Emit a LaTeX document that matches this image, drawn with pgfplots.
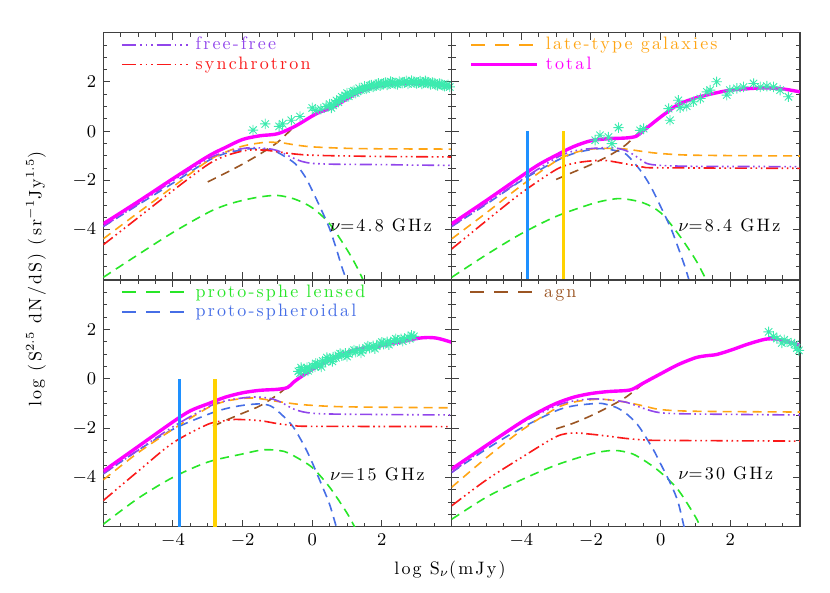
\documentclass[border=0pt]{standalone}
\usepackage{fontspec}
\setmainfont{lmroman10-regular.otf}[LetterSpace=12,BoldFont=lmroman10-bold.otf,ItalicFont=lmroman10-italic.otf]
\usepackage{pgfplots}
\pgfplotsset{compat=1.18}
\definecolor{cff}{RGB}{145,70,235}
\definecolor{csy}{RGB}{250,25,25}
\definecolor{clt}{RGB}{255,165,20}
\definecolor{ctot}{RGB}{255,0,255}
\definecolor{cpr}{RGB}{70,110,230}
\definecolor{cln}{RGB}{40,230,40}
\definecolor{cagn}{RGB}{155,85,35}
\definecolor{cdat}{RGB}{60,235,175}
\definecolor{cbar1}{RGB}{30,144,255}
\definecolor{cbar2}{RGB}{255,210,0}
\newcommand{\lf}{\fontsize{9}{11}\selectfont}
\tikzset{nulab/.style={anchor=west,inner sep=0pt,font=\lf}}
\pgfdeclareplotmark{ast8}{%
 \pgfpathmoveto{\pgfqpoint{-\pgfplotmarksize}{0pt}}\pgfpathlineto{\pgfqpoint{\pgfplotmarksize}{0pt}}%
 \pgfpathmoveto{\pgfqpoint{0pt}{-\pgfplotmarksize}}\pgfpathlineto{\pgfqpoint{0pt}{\pgfplotmarksize}}%
 \pgfpathmoveto{\pgfqpoint{-.707\pgfplotmarksize}{-.707\pgfplotmarksize}}\pgfpathlineto{\pgfqpoint{.707\pgfplotmarksize}{.707\pgfplotmarksize}}%
 \pgfpathmoveto{\pgfqpoint{-.707\pgfplotmarksize}{.707\pgfplotmarksize}}\pgfpathlineto{\pgfqpoint{.707\pgfplotmarksize}{-.707\pgfplotmarksize}}%
 \pgfusepathqstroke}
\pgfplotsset{
 panel/.style={width=174.1pt,height=123.3pt,scale only axis,
  xmin=-6,xmax=4,ymin=-6,ymax=4,
  xtick={-6,-4,-2,0,2,4},ytick={-6,-4,-2,0,2,4},
  xticklabels={,$-4$,$-2$,$0$,$2$,},yticklabels={,$-4$,$-2$,$0$,$2$,},
  minor x tick num=3,minor y tick num=3,
  tick align=inside,major tick length=3.5pt,minor tick length=2pt,
  axis line style={black!75,line width=0.6pt},
  every tick/.style={black!75,line width=0.5pt},
  tick label style={font=\fontsize{9.5}{11}\selectfont},
  legend image code/.code={\draw[##1] (0pt,0pt) -- (33pt,0pt);},
  legend style={at={(axis description cs:0.05,0.992)},anchor=north west,draw=none,fill=none,
   inner sep=0pt,row sep=0pt,column sep=3pt,font=\lf,
   nodes={inner sep=0.5pt,text height=6.8pt,text depth=2pt}},
  legend cell align=left,
 },
 ffs/.style={color=cff,line width=0.8pt,dash pattern=on 6pt off 1.8pt on 0.8pt off 1.8pt on 0.8pt off 1.8pt on 0.8pt off 1.8pt,smooth},
 sys/.style={color=csy,line width=0.8pt,dash pattern=on 6pt off 1.8pt on 0.8pt off 1.8pt on 0.8pt off 1.8pt on 0.8pt off 1.8pt,smooth},
 lts/.style={color=clt,line width=0.8pt,dash pattern=on 4.5pt off 3pt,smooth},
 tots/.style={color=ctot,line width=1.7pt,smooth},
 prs/.style={color=cpr,line width=0.8pt,dash pattern=on 4.5pt off 3pt,smooth},
 lns/.style={color=cln,line width=0.8pt,dash pattern=on 4.5pt off 3pt,smooth},
 agns/.style={color=cagn,line width=0.8pt,dash pattern=on 4.5pt off 3pt,smooth},
 dat/.style={only marks,mark=ast8,mark size=2.6pt,color=cdat,line width=0.45pt},
 bar1/.style={color=cbar1,line width=1.6pt},
 bar2/.style={color=cbar2,line width=1.6pt},
}
\begin{document}
\begin{tikzpicture}
\path[use as bounding box] (0pt,0pt) rectangle (415pt,296.5pt);
% ---------------- top left: 4.8 GHz
\begin{axis}[panel,at={(51.65pt,156.85pt)},anchor=south west,xticklabels={}]
\addplot[dat,forget plot] coordinates {(-1.7,0.05) (-1.35,0.3) (-0.95,0.2) (-0.85,0.3) (-0.6,0.45) (-0.35,0.6) (0.0,0.95) (0.1,0.85) (0.25,0.9) (0.4,1.0) (0.5,1.1) (0.6,1.05) (0.7,1.25) (0.8,1.3) (0.85,1.4) (0.95,1.45) (1.0,1.55) (1.1,1.5) (1.2,1.65) (1.3,1.62) (1.35,1.75) (1.45,1.72) (1.5,1.82) (1.6,1.78) (1.7,1.88) (1.8,1.84) (1.9,1.95) (2.0,1.9) (2.1,1.98) (2.2,1.92) (2.3,1.99) (2.4,1.92) (2.5,2.02) (2.6,1.95) (2.7,2.05) (2.8,1.97) (2.9,2.02) (3.0,1.94) (3.1,2.04) (3.2,1.96) (3.3,2.0) (3.4,1.9) (3.5,1.96) (3.6,1.86) (3.7,1.92) (3.8,1.83) (3.9,1.89)
 (0.55,0.95) (0.65,1.15) (0.75,1.18) (0.9,1.35) (1.05,1.42) (1.15,1.6) (1.25,1.55) (1.4,1.68) (1.55,1.72) (1.65,1.85) (1.75,1.8) (1.85,1.9) (1.95,1.85) (2.05,1.95) (2.15,1.88) (2.25,2.02) (2.35,1.95) (2.45,1.9) (2.55,1.98) (2.65,2.0) (2.75,1.92) (2.85,2.06) (2.95,1.97) (3.05,1.99) (3.15,1.92) (3.25,2.05) (3.35,1.95) (3.45,1.98) (3.55,1.88) (3.65,1.94) (3.75,1.86) (3.85,1.85) (3.95,1.8)};
\addplot[lns,forget plot] coordinates {(-6,-5.92) (-5,-5.0) (-4,-4.1) (-3,-3.3) (-2.5,-3.0) (-2,-2.8) (-1.5,-2.66) (-1,-2.6) (-0.5,-2.75) (0,-3.1) (0.5,-3.75) (1,-4.8) (1.3,-5.55) (1.55,-6.3)};
\addplot[prs,forget plot] coordinates {(-6,-3.86) (-5,-2.98) (-4,-2.1) (-3,-1.2) (-2.5,-0.9) (-2,-0.75) (-1.7,-0.7) (-1.3,-0.74) (-1,-0.85) (-0.5,-1.3) (-0.2,-1.85) (0,-2.4) (0.3,-3.3) (0.5,-3.95) (0.7,-4.8) (0.85,-5.5) (1.0,-6.1) (1.05,-6.4)};
\addplot[agns,forget plot] coordinates {(-3,-2.05) (-2.5,-1.7) (-2,-1.33) (-1.5,-0.92) (-1,-0.45) (-0.55,0.15)};
\addplot[lts,forget plot] coordinates {(-6,-4.36) (-5,-3.3) (-4,-2.25) (-3,-1.2) (-2.5,-0.85) (-2,-0.6) (-1.5,-0.47) (-1.2,-0.44) (-0.8,-0.48) (-0.5,-0.55) (0,-0.63) (1,-0.69) (2,-0.71) (4,-0.72)};
\addplot[sys,forget plot] coordinates {(-6,-4.6) (-5,-3.5) (-4,-2.4) (-3,-1.35) (-2.5,-1.0) (-2,-0.8) (-1.7,-0.75) (-1.3,-0.77) (-1,-0.83) (-0.5,-0.92) (0,-0.97) (1,-1.0) (2,-1.02) (3,-1.03) (4,-1.04)};
\addplot[ffs,forget plot] coordinates {(-6,-3.85) (-5,-2.95) (-4,-2.0) (-3,-1.12) (-2.5,-0.85) (-2,-0.7) (-1.7,-0.66) (-1.3,-0.7) (-1,-0.78) (-0.6,-1.05) (-0.3,-1.22) (0,-1.3) (0.5,-1.33) (1,-1.34) (2,-1.35) (3,-1.37) (4,-1.38)};
\addplot[tots,forget plot] coordinates {(-6,-3.75) (-5,-2.85) (-4,-1.92) (-3,-1.02) (-2.5,-0.66) (-2,-0.33) (-1.5,-0.18) (-1,-0.1) (-0.5,0.2) (0,0.62) (0.25,0.8) (0.5,0.92) (0.75,1.1) (1.0,1.32) (1.25,1.52) (1.5,1.67) (1.75,1.79) (2,1.87) (2.5,1.94) (3,1.95) (3.5,1.91) (4,1.82)};
\addlegendimage{color=cff,line width=0.8pt,dash pattern=on 7pt off 2pt on 0.8pt off 2pt on 0.8pt off 2pt on 0.8pt off 2pt}
\addlegendentry{\textcolor{cff}{free-free}}
\addlegendimage{color=csy,line width=0.8pt,dash pattern=on 7pt off 2pt on 0.8pt off 2pt on 0.8pt off 2pt on 0.8pt off 2pt}
\addlegendentry{\textcolor{csy}{synchrotron}}
\node[nulab] at (axis cs:0.5,-3.82) {$\nu$=4.8\ GHz};
\end{axis}
% ---------------- top right: 8.4 GHz
\begin{axis}[panel,at={(225.85pt,156.85pt)},anchor=south west,xticklabels={},yticklabels={}]
\addplot[dat,forget plot] coordinates {(-1.74,-0.16) (-1.5,-0.23) (-1.88,-0.36) (-1.21,0.15) (-1.4,-0.5) (-0.59,0.04) (-0.49,0.11) (0.23,0.92) (0.27,0.45) (0.51,1.26) (0.56,0.96) (0.75,1.02) (0.94,1.2) (1.14,1.33) (1.33,1.6) (1.42,1.67) (1.61,2.01) (1.9,1.47) (1.99,1.67) (2.19,1.74) (2.38,1.8) (2.67,1.94) (2.86,1.8) (3.05,1.83) (3.24,1.8) (3.43,1.67) (3.67,1.4)};
\addplot[lns,forget plot] coordinates {(-6,-5.92) (-5,-5.0) (-4,-4.15) (-3,-3.45) (-2,-2.95) (-1.5,-2.78) (-1.1,-2.73) (-0.5,-2.9) (0,-3.3) (0.5,-4.15) (1,-5.2) (1.3,-6.0) (1.4,-6.3)};
\addplot[prs,forget plot] coordinates {(-6,-3.86) (-5,-2.95) (-4,-2.0) (-3,-1.2) (-2.5,-0.9) (-2,-0.74) (-1.7,-0.7) (-1.3,-0.78) (-1,-0.92) (-0.6,-1.55) (-0.3,-2.2) (0,-3.05) (0.3,-3.95) (0.5,-4.7) (0.7,-5.5) (0.85,-6.2)};
\addplot[agns,forget plot] coordinates {(-3,-1.95) (-2.5,-1.65) (-2,-1.35) (-1.5,-1.0) (-1,-0.55) (-0.45,0.2)};
\addplot[lts,forget plot] coordinates {(-6,-4.36) (-5,-3.3) (-4,-2.2) (-3,-1.2) (-2.5,-0.88) (-2,-0.72) (-1.5,-0.69) (-1,-0.72) (-0.5,-0.82) (0,-0.9) (1,-0.97) (4,-1.0)};
\addplot[sys,forget plot] coordinates {(-6,-4.77) (-5,-3.62) (-4,-2.5) (-3,-1.55) (-2.5,-1.3) (-2,-1.2) (-1.6,-1.18) (-1,-1.32) (-0.5,-1.45) (0,-1.48) (4,-1.5)};
\addplot[ffs,forget plot] coordinates {(-6,-3.85) (-5,-2.92) (-4,-1.97) (-3,-1.08) (-2.5,-0.8) (-2,-0.7) (-1.4,-0.66) (-1,-0.78) (-0.7,-1.02) (-0.4,-1.3) (0,-1.38) (1,-1.42) (4,-1.43)};
\addplot[tots,forget plot] coordinates {(-6,-3.75) (-5,-2.8) (-4,-1.82) (-3.5,-1.35) (-3,-0.97) (-2.5,-0.62) (-2,-0.38) (-1.5,-0.3) (-1,-0.27) (-0.7,-0.2) (-0.5,0.02) (0,0.58) (0.5,1.08) (1,1.35) (1.5,1.53) (2,1.67) (2.5,1.73) (3,1.76) (3.5,1.72) (4,1.6)};
\addplot[bar1,forget plot] coordinates {(-3.82,-6) (-3.82,0)};
\addplot[bar2,forget plot] coordinates {(-2.8,-6) (-2.8,0)};
\addlegendimage{color=clt,line width=0.8pt,dash pattern=on 7pt off 5pt}
\addlegendentry{\textcolor{clt}{late-type galaxies}}
\addlegendimage{color=ctot,line width=1.7pt}
\addlegendentry{\textcolor{ctot}{total}}
\node[nulab] at (axis cs:0.5,-3.82) {$\nu$=8.4\ GHz};
\end{axis}
% ---------------- bottom left: 15 GHz
\begin{axis}[panel,at={(51.65pt,33.15pt)},anchor=south west]
\addplot[dat,forget plot] coordinates {(-0.4,0.3) (-0.35,0.22) (-0.3,0.38) (-0.22,0.3) (-0.15,0.45) (-0.08,0.4) (0.0,0.52) (0.08,0.48) (0.15,0.6) (0.22,0.56) (0.3,0.72) (0.38,0.68) (0.45,0.8) (0.52,0.76) (0.6,0.88) (0.68,0.85) (0.75,0.95) (0.85,0.93) (0.95,1.03) (1.05,1.0) (1.15,1.1) (1.25,1.08) (1.35,1.18) (1.45,1.15) (1.55,1.25) (1.65,1.24) (1.75,1.33) (1.85,1.32) (1.95,1.42) (2.05,1.4) (2.15,1.5) (2.25,1.47) (2.35,1.55) (2.45,1.54) (2.55,1.62) (2.65,1.63) (2.75,1.68) (2.85,1.76) (2.92,1.72)
 (-0.32,0.45) (-0.12,0.32) (0.1,0.62) (0.26,0.48) (0.42,0.86) (0.58,0.7) (0.8,1.02) (1.0,0.9) (1.2,1.16) (1.4,1.05) (1.6,1.32) (1.8,1.22) (2.0,1.48) (2.2,1.38) (2.4,1.62) (2.6,1.52) (2.8,1.62)};
\addplot[lns,forget plot] coordinates {(-6,-5.9) (-5,-4.85) (-4,-4.0) (-3,-3.38) (-2,-3.05) (-1.5,-2.9) (-1.2,-2.88) (-0.8,-2.95) (-0.5,-3.15) (0,-3.6) (0.5,-4.4) (1,-5.45) (1.25,-6.1) (1.35,-6.4)};
\addplot[prs,forget plot] coordinates {(-6,-3.86) (-5,-2.9) (-4,-2.05) (-3,-1.45) (-2.5,-1.22) (-2,-1.08) (-1.5,-1.02) (-1.2,-1.1) (-1,-1.3) (-0.7,-1.7) (-0.5,-2.05) (-0.2,-2.8) (0,-3.4) (0.3,-4.4) (0.5,-5.1) (0.7,-6.05) (0.75,-6.3)};
\addplot[agns,forget plot] coordinates {(-2.85,-1.93) (-2.5,-1.7) (-2,-1.4) (-1.5,-1.1) (-1,-0.65) (-0.5,-0.07)};
\addplot[lts,forget plot] coordinates {(-6,-4.1) (-5,-3.0) (-4,-2.05) (-3,-1.18) (-2.5,-0.92) (-2,-0.8) (-1.7,-0.78) (-1.3,-0.85) (-1,-0.92) (-0.5,-1.02) (0,-1.08) (1,-1.14) (4,-1.18)};
\addplot[sys,forget plot] coordinates {(-6,-4.94) (-5,-3.75) (-4,-2.6) (-3,-1.85) (-2.5,-1.7) (-2.2,-1.65) (-1.5,-1.7) (-1,-1.82) (-0.5,-1.9) (0,-1.93) (4,-1.94)};
\addplot[ffs,forget plot] coordinates {(-6,-3.85) (-5,-2.9) (-4,-1.95) (-3,-1.15) (-2.5,-0.9) (-2,-0.78) (-1.6,-0.74) (-1.2,-0.8) (-0.9,-0.95) (-0.5,-1.25) (0,-1.4) (1,-1.44) (4,-1.47)};
\addplot[tots,forget plot] coordinates {(-6,-3.75) (-5,-2.75) (-4,-1.75) (-3.5,-1.3) (-3,-1.02) (-2.5,-0.75) (-2,-0.57) (-1.5,-0.47) (-1,-0.43) (-0.7,-0.35) (-0.5,-0.1) (0,0.38) (0.5,0.75) (1,1.06) (1.5,1.25) (1.8,1.29) (2.1,1.38) (2.5,1.48) (3,1.63) (3.3,1.67) (3.6,1.64) (4,1.48)};
\addplot[bar1,forget plot] coordinates {(-3.81,-6) (-3.81,0)};
\addplot[bar2,forget plot] coordinates {(-2.79,-6) (-2.79,0)};
\addlegendimage{color=cln,line width=0.8pt,dash pattern=on 7pt off 5pt}
\addlegendentry{\textcolor{cln}{proto-sphe lensed}}
\addlegendimage{color=cpr,line width=0.8pt,dash pattern=on 7pt off 5pt}
\addlegendentry{\textcolor{cpr}{proto-spheroidal}}
\node[nulab] at (axis cs:0.5,-3.87) {$\nu$=15\ GHz};
\end{axis}
% ---------------- bottom right: 30 GHz
\begin{axis}[panel,at={(225.85pt,33.15pt)},anchor=south west,yticklabels={}]
\addplot[dat,forget plot] coordinates {(3.1,1.9) (3.24,1.72) (3.34,1.63) (3.48,1.45) (3.55,1.58) (3.63,1.49) (3.75,1.45) (3.85,1.4) (3.91,1.24) (3.97,1.15)};
\addplot[lns,forget plot] coordinates {(-6,-5.7) (-5,-4.8) (-4,-4.1) (-3,-3.5) (-2,-3.05) (-1.5,-2.92) (-1.2,-2.92) (-0.8,-3.05) (-0.4,-3.38) (0,-3.8) (0.5,-4.5) (1,-5.6) (1.15,-6.05) (1.25,-6.3)};
\addplot[prs,forget plot] coordinates {(-6,-3.8) (-5,-2.85) (-4,-2.0) (-3,-1.3) (-2.5,-1.1) (-2,-1.02) (-1.7,-1.0) (-1.3,-1.15) (-1,-1.4) (-0.7,-1.8) (-0.5,-2.2) (-0.2,-2.9) (0,-3.45) (0.3,-4.3) (0.5,-5.0) (0.68,-6.05) (0.72,-6.3)};
\addplot[agns,forget plot] coordinates {(-3,-2.03) (-2.5,-1.8) (-2,-1.5) (-1.5,-1.15) (-1,-0.75) (-0.5,-0.2)};
\addplot[lts,forget plot] coordinates {(-6,-4.4) (-5,-3.2) (-4,-2.1) (-3,-1.2) (-2.5,-0.95) (-2,-0.85) (-1.6,-0.84) (-1,-0.95) (-0.5,-1.1) (0,-1.25) (1,-1.32) (4,-1.35)};
\addplot[sys,forget plot] coordinates {(-6,-5.15) (-5,-4.1) (-4,-3.2) (-3,-2.35) (-2.5,-2.2) (-2,-2.25) (-1.5,-2.33) (-1,-2.42) (-0.5,-2.48) (0,-2.5) (4,-2.53)};
\addplot[ffs,forget plot] coordinates {(-6,-3.8) (-5,-2.75) (-4,-1.8) (-3,-1.1) (-2.5,-0.9) (-2,-0.82) (-1.6,-0.84) (-1,-0.95) (-0.5,-1.2) (0,-1.38) (1,-1.43) (4,-1.47)};
\addplot[tots,forget plot] coordinates {(-6,-3.66) (-5,-2.7) (-4,-1.76) (-3.5,-1.35) (-3,-1.0) (-2.5,-0.75) (-2,-0.6) (-1.5,-0.52) (-1,-0.48) (-0.8,-0.42) (-0.5,-0.18) (0,0.2) (0.5,0.57) (1,0.85) (1.3,0.93) (1.6,0.98) (2,1.15) (2.5,1.4) (3,1.6) (3.3,1.61) (3.6,1.52) (4,1.36)};
\addlegendimage{color=cagn,line width=0.8pt,dash pattern=on 7pt off 5pt}
\addlegendentry{\textcolor{cagn}{agn}}
\node[nulab] at (axis cs:0.5,-3.85) {$\nu$=30\ GHz};
\end{axis}
\node[rotate=90,font=\lf] at (18pt,157pt) {log (S$^{2.5}$ dN/dS) (sr$^{-1}$Jy$^{1.5}$)};
\node[font=\lf] at (225pt,11.5pt) {log S$_\nu$(mJy)};
\end{tikzpicture}
\end{document}
